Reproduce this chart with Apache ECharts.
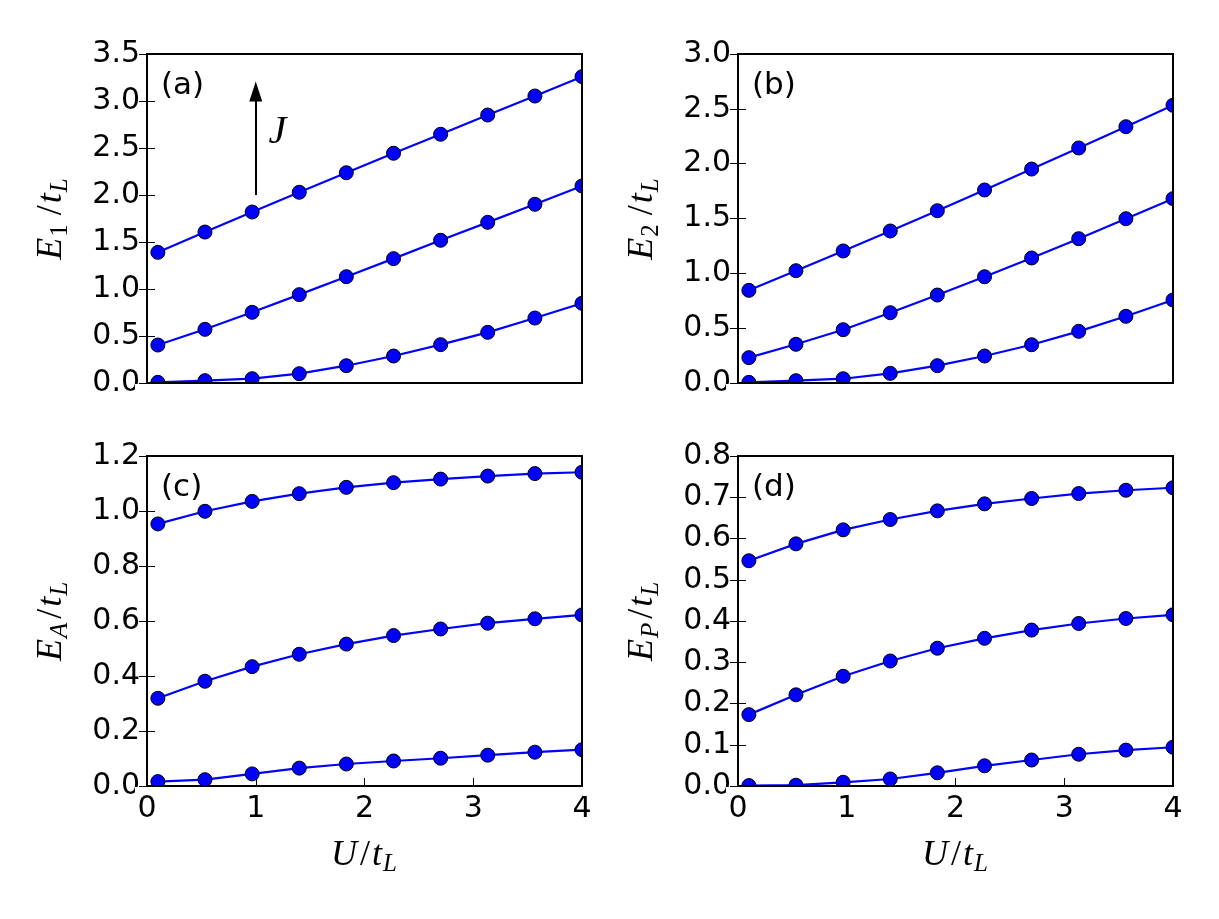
<!DOCTYPE html>
<html>
<head>
<meta charset="utf-8">
<script src="https://cdn.jsdelivr.net/npm/echarts@6/dist/echarts.min.js"></script>
<style>
html, body { margin: 0; padding: 0; background: #fff; }
#chart { width: 1219px; height: 919px; }
</style>
</head>
<body>
<div id="chart"></div>
<script>
// U/t_L
var xU = [0.1, 0.533, 0.967, 1.4, 1.833, 2.267, 2.7, 3.133, 3.567, 4.0];

// (a) E_1/t_L
var e1Top = [1.39, 1.606, 1.819, 2.029, 2.237, 2.444, 2.646, 2.851, 3.053, 3.259];
var e1Mid = [0.404, 0.571, 0.752, 0.94, 1.131, 1.323, 1.518, 1.709, 1.901, 2.096];
var e1Bot = [0.007, 0.025, 0.046, 0.099, 0.184, 0.287, 0.408, 0.539, 0.691, 0.848];

// (b) E_2/t_L
var e2Top = [0.845, 1.024, 1.204, 1.386, 1.571, 1.76, 1.951, 2.143, 2.337, 2.532];
var e2Mid = [0.231, 0.353, 0.486, 0.641, 0.802, 0.969, 1.14, 1.316, 1.498, 1.681];
var e2Bot = [0.006, 0.021, 0.039, 0.088, 0.158, 0.246, 0.349, 0.471, 0.608, 0.757];

// (c) E_A/t_L
var eaTop = [0.953, 0.999, 1.035, 1.063, 1.086, 1.103, 1.116, 1.127, 1.136, 1.141];
var eaMid = [0.319, 0.381, 0.434, 0.479, 0.516, 0.547, 0.571, 0.592, 0.608, 0.622];
var eaBot = [0.016, 0.023, 0.044, 0.065, 0.08, 0.091, 0.101, 0.112, 0.123, 0.132];

// (d) E_P/t_L
var epTop = [0.546, 0.587, 0.621, 0.646, 0.667, 0.684, 0.697, 0.709, 0.717, 0.723];
var epMid = [0.173, 0.221, 0.266, 0.303, 0.334, 0.358, 0.378, 0.394, 0.406, 0.415];
var epBot = [0.001, 0.002, 0.009, 0.017, 0.032, 0.049, 0.063, 0.077, 0.087, 0.094];

// y axis ranges / ticks
var yMax = [3.5, 3.0, 1.2, 0.8];
var yStep = [0.5, 0.5, 0.2, 0.1];
var panelTags = ['(a)', '(b)', '(c)', '(d)'];
var ySubs = ['1', '2', 'A', 'P'];
var ySubItalic = [false, false, true, true];

// J arrow (data coords of panel a)
var arrowFrom = [1.0, 2.0];
var arrowTo = [1.0, 3.1];
var jPos = [1.2, 2.66];

var panelLines = [
    [e1Top, e1Mid, e1Bot],
    [e2Top, e2Mid, e2Bot],
    [eaTop, eaMid, eaBot],
    [epTop, epMid, epBot]
];

// layout
var boxes = [
    {left: 147, top: 54, width: 435, height: 329, xLabels: false},
    {left: 738, top: 54, width: 435, height: 329, xLabels: false},
    {left: 147, top: 456, width: 435, height: 330, xLabels: true},
    {left: 738, top: 456, width: 435, height: 330, xLabels: true}
];

var serif = 'Liberation Serif';
var sans = 'DejaVu Sans';
var nameRich = {
    m: {fontFamily: serif, fontStyle: 'italic', fontSize: 36, color: '#000'},
    n: {fontFamily: serif, fontSize: 36, color: '#000', padding: [0, 2, 0, 3]},
    s: {fontFamily: serif, fontSize: 25, color: '#000', padding: [18, 6, 0, 1]},
    si: {fontFamily: serif, fontStyle: 'italic', fontSize: 25, color: '#000', padding: [18, 1, 0, 1]}
};

var grids = [], xAxes = [], yAxes = [], series = [], graphics = [];

boxes.forEach(function (b, i) {
    grids.push({
        left: b.left, top: b.top, width: b.width, height: b.height,
        show: true, borderColor: '#000', borderWidth: 2,
        backgroundColor: 'transparent', z: 10,
        containLabel: false, outerBoundsMode: 'none'
    });

    var tick = {show: b.xLabels, inside: true, length: 8, lineStyle: {color: '#000', width: 1}};
    xAxes.push({
        gridIndex: i, type: 'value', position: 'bottom',
        min: 0, max: 4, interval: 1,
        axisLine: {show: false},
        axisTick: tick,
        splitLine: {show: false},
        axisLabel: {show: b.xLabels, color: '#000', fontSize: 30, fontFamily: sans, margin: 8},
        name: b.xLabels ? '{m|U}{n|/}{m|t}{si|L}' : '',
        nameLocation: 'middle', nameGap: 48,
        nameTextStyle: {rich: nameRich}
    });
    xAxes.push({
        gridIndex: i, type: 'value', position: 'top',
        min: 0, max: 4, interval: 1,
        axisLine: {show: false}, axisTick: tick,
        splitLine: {show: false}, axisLabel: {show: false}
    });

    var subTag = ySubItalic[i] ? 'si' : 's';
    var yTick = {show: true, inside: true, length: 8, lineStyle: {color: '#000', width: 1}};
    yAxes.push({
        gridIndex: i, type: 'value', position: 'left',
        min: 0, max: yMax[i], interval: yStep[i],
        axisLine: {show: false}, axisTick: yTick,
        splitLine: {show: false},
        axisLabel: {
            color: '#000', fontSize: 30, fontFamily: sans, margin: 7,
            formatter: function (v) { return v.toFixed(1); }
        },
        name: '{m|E}{' + subTag + '|' + ySubs[i] + '}{n|/}{m|t}{si|L}',
        nameLocation: 'middle', nameGap: 74, nameRotate: 90,
        nameTextStyle: {rich: nameRich}
    });
    yAxes.push({
        gridIndex: i, type: 'value', position: 'right',
        min: 0, max: yMax[i], interval: yStep[i],
        axisLine: {show: false}, axisTick: yTick,
        splitLine: {show: false}, axisLabel: {show: false}
    });

    panelLines[i].forEach(function (ys, k) {
        var s = {
            type: 'line',
            xAxisIndex: i * 2, yAxisIndex: i * 2,
            data: xU.map(function (x, j) { return [x, ys[j]]; }),
            symbol: 'circle', symbolSize: 14,
            lineStyle: {color: '#0000ff', width: 2.2},
            itemStyle: {color: '#0000ff', borderColor: '#000', borderWidth: 1},
            z: 2
        };
        if (i === 0 && k === 0) {
            s.markLine = {
                silent: true, symbol: ['none', 'triangle'], symbolSize: [13, 20],
                lineStyle: {color: '#000', width: 2, type: 'solid'},
                itemStyle: {color: '#000'},
                label: {show: false},
                data: [[{coord: arrowFrom}, {coord: arrowTo}]]
            };
            s.markPoint = {
                silent: true, symbol: 'rect', symbolSize: 1,
                itemStyle: {color: 'transparent'},
                label: {show: true, position: 'inside', formatter: 'J',
                    fontFamily: serif, fontStyle: 'italic', fontSize: 40, color: '#000'},
                data: [{coord: jPos}]
            };
        }
        series.push(s);
    });

    // panel tag
    graphics.push({
        type: 'text', left: b.left + 14, top: b.top + 16, z: 20,
        style: {text: panelTags[i], font: '31px "DejaVu Sans"', fill: '#000'}
    });
    // white masks so edge markers look clipped by the frame
    graphics.push({
        type: 'rect', z: 5, silent: true,
        shape: {x: b.left + b.width + 1, y: b.top - 12, width: 12, height: b.height + 22},
        style: {fill: '#fff'}
    });
    graphics.push({
        type: 'rect', z: 5, silent: true,
        shape: {x: b.left - 12, y: b.top + b.height + 1, width: b.width + 24, height: 8},
        style: {fill: '#fff'}
    });
});

var option = {
    animation: false,
    backgroundColor: '#fff',
    grid: grids,
    xAxis: xAxes,
    yAxis: yAxes,
    series: series,
    graphic: graphics
};

var myChart = echarts.init(document.getElementById('chart'));
myChart.setOption(option);
</script>
</body>
</html>
